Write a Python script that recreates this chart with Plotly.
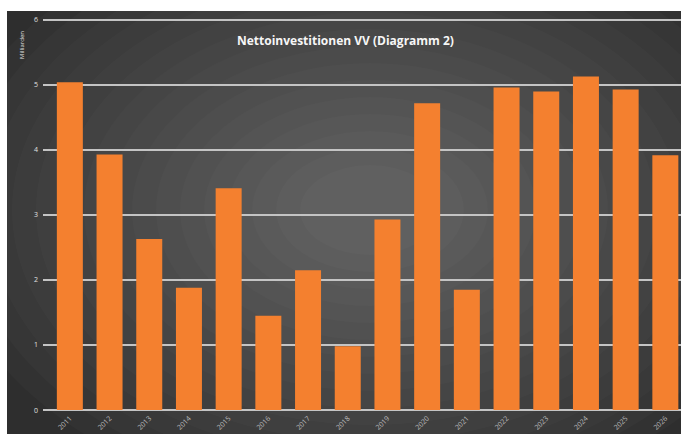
import plotly.graph_objects as go

years = ["2011", "2012", "2013", "2014", "2015", "2016", "2017", "2018",
         "2019", "2020", "2021", "2022", "2023", "2024", "2025", "2026"]
values = [5.04, 3.93, 2.63, 1.88, 3.41, 1.45, 2.15, 0.98,
          2.93, 4.72, 1.85, 4.96, 4.90, 5.13, 4.93, 3.92]
y_ticks = [0, 1, 2, 3, 4, 5, 6]
title_text = "Nettoinvestitionen VV (Diagramm 2)"
y_title = "Milliarden"

W, H = 681, 434
ML, MR, MT, MB = 43, 0, 18, 22
PW, PH = W - ML - MR, H - MT - MB
Y0, Y1 = -0.03, 6.03


def px_x(px):
    return (px - ML) / PW


def px_y(py):
    return 1 - (py - MT) / PH


fig = go.Figure()
fig.add_trace(go.Bar(
    x=list(range(len(years))), y=values,
    marker=dict(color="#f4802f", line=dict(width=0)),
    hoverinfo="skip",
))

shapes = []
shapes.append(dict(type="rect", xref="paper", yref="paper", layer="below",
                   x0=px_x(7), x1=px_x(W + 5), y0=px_y(H + 5), y1=px_y(11),
                   fillcolor="#2e2e2e", line=dict(width=0)))
cx, cy = 370, 210
for i in range(16):
    rx = 430 - i * 24
    ry = 300 - i * 17
    shapes.append(dict(type="circle", xref="paper", yref="paper", layer="below",
                       x0=px_x(cx - rx), x1=px_x(cx + rx),
                       y0=px_y(cy + ry), y1=px_y(cy - ry),
                       fillcolor="rgba(255,255,255,0.018)", line=dict(width=0)))

fig.update_layout(
    width=W, height=H,
    margin=dict(l=ML, r=MR, t=MT, b=MB, autoexpand=False),
    paper_bgcolor="white",
    plot_bgcolor="rgba(0,0,0,0)",
    showlegend=False,
    bargap=0.345,
    shapes=shapes,
    xaxis=dict(
        range=[-0.5 - 7 / 39.7, -0.5 - 7 / 39.7 + PW / 39.7],
        tickmode="array", tickvals=list(range(len(years))), ticktext=years,
        tickangle=-45, tickfont=dict(size=7, color="#bcbcbc", family="Open Sans"),
        showgrid=False, zeroline=False, showline=False, ticks="",
        automargin=False,
    ),
    yaxis=dict(
        range=[Y0, Y1], tickmode="array", tickvals=y_ticks,
        ticktext=[str(v) for v in y_ticks],
        tickfont=dict(size=7, color="#e0e0e0", family="Open Sans"),
        showgrid=True, gridcolor="#c4c4c4", gridwidth=2,
        zeroline=False, showline=False, ticks="", ticklabelstandoff=4,
        automargin=False,
    ),
    annotations=[
        dict(text=title_text, xref="paper", yref="paper",
             x=px_x(345), y=px_y(40), xanchor="center", yanchor="middle",
             showarrow=False,
             font=dict(size=12, color="#f6f6f6", family="Open Sans", weight="bold")),
        dict(text=y_title, xref="paper", yref="paper",
             x=px_x(22), y=px_y(45), xanchor="center", yanchor="middle",
             showarrow=False, textangle=-90,
             font=dict(size=6, color="#e0e0e0", family="Open Sans")),
    ],
)

fig.write_html("out.html", config={"displayModeBar": False},
               post_script="document.body.style.margin='0px';")
